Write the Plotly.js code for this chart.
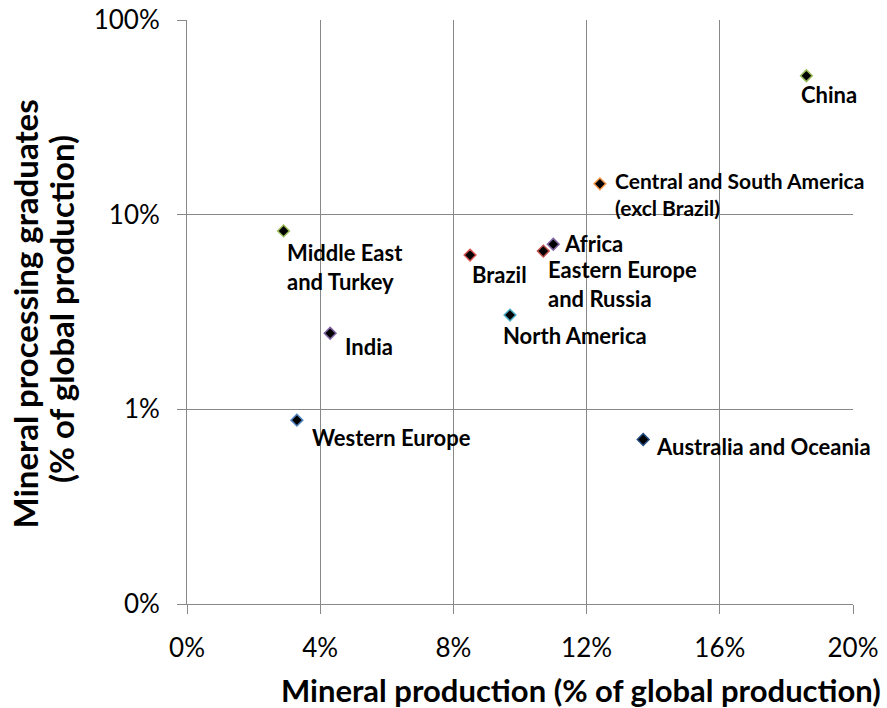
<!DOCTYPE html>
<html>
<head>
<meta charset="utf-8">
<script src="https://cdn.plot.ly/plotly-3.0.1.min.js"></script>
<style>html,body{margin:0;padding:0;background:#fff;}#chart{width:887px;height:708px;}</style>
</head>
<body>
<div id="chart"></div>
<script>
const regions = ["China", "Central and South America<br>(excl Brazil)", "Middle East<br>and Turkey", "Brazil", "Africa", "Eastern Europe<br>and Russia", "North America", "India", "Western Europe", "Australia and Oceania"];
const production = [18.6, 12.4, 2.9, 8.5, 11.0, 10.7, 9.7, 4.3, 3.3, 13.7];
const graduates = [51.7, 14.4, 8.25, 6.2, 7.05, 6.5, 3.05, 2.46, 0.88, 0.70];
const outlineColors = ["#9bbb59", "#f79646", "#9bbb59", "#d9534f", "#8064a2", "#c0504d", "#4bacc6", "#8064a2", "#4f81bd", "#1f497d"];
const xTicks = [0, 4, 8, 12, 16, 20];
const xTickText = xTicks.map(v => v + "%");
const yTicks = [0.1, 1, 10, 100];
const yTickText = ["0%", "1%", "10%", "100%"];
// label offsets (pixels) relative to each marker
const labelDX = [-7, 13, 1, 0, 9, 3, -9, 13, 13, 11];
const labelDY = [-19, -10, -36, -19, 1, -33, -20, -13, -17, -7];
const labelSize = [22, 21, 22, 22, 22, 22, 22, 22, 22, 22];

const font = "Lato, 'Open Sans', sans-serif";

const trace = {
  x: production, y: graduates, type: 'scatter', mode: 'markers',
  marker: {symbol: 'diamond', size: 9, color: '#000', line: {color: outlineColors, width: 1.5}},
  hoverinfo: 'none'
};

const annotations = regions.map((r, i) => ({
  x: production[i], y: Math.log10(graduates[i]), xref: 'x', yref: 'y',
  text: r, showarrow: false, xanchor: 'left', yanchor: 'middle', align: 'left',
  xshift: labelDX[i], yshift: labelDY[i],
  font: {family: font, size: labelSize[i], color: '#000', weight: 'bold'}
}));

annotations.push({
  text: 'Mineral production (% of global production)', xref: 'paper', yref: 'paper',
  x: 0.5916, y: 0, yshift: -86, xanchor: 'center', yanchor: 'middle', showarrow: false,
  font: {family: font, size: 31, color: '#000', weight: 'bold'}
});
annotations.push({
  text: 'Mineral processing graduates', xref: 'paper', yref: 'paper',
  x: 0, xshift: -162, y: 0.4957, xanchor: 'center', yanchor: 'middle', textangle: -90, showarrow: false,
  font: {family: font, size: 33, color: '#000', weight: 'bold'}
});
annotations.push({
  text: '(% of global production)', xref: 'paper', yref: 'paper',
  x: 0, xshift: -126, y: 0.505, xanchor: 'center', yanchor: 'middle', textangle: -90, showarrow: false,
  font: {family: font, size: 33, color: '#000', weight: 'bold'}
});

const layout = {
  width: 887, height: 708,
  margin: {l: 187, r: 34, t: 20, b: 104},
  paper_bgcolor: '#fff', plot_bgcolor: '#fff',
  showlegend: false,
  xaxis: {
    range: [0, 20], tickmode: 'array', tickvals: xTicks, ticktext: xTickText,
    showgrid: true, gridcolor: '#888', gridwidth: 1,
    showline: true, linecolor: '#888', linewidth: 1,
    ticks: 'outside', ticklen: 9, tickcolor: '#888',
    ticklabelstandoff: 12,
    zeroline: false,
    tickfont: {family: font, size: 26, color: '#000'}
  },
  yaxis: {
    type: 'log', range: [-1, 2], tickmode: 'array', tickvals: yTicks, ticktext: yTickText,
    showgrid: true, gridcolor: '#888', gridwidth: 1,
    showline: true, linecolor: '#888', linewidth: 1,
    ticks: 'outside', ticklen: 9, tickcolor: '#888',
    ticklabelstandoff: 12,
    zeroline: false,
    tickfont: {family: font, size: 26, color: '#000'}
  },
  annotations: annotations
};

Plotly.newPlot('chart', [trace], layout, {displayModeBar: false, staticPlot: true});
</script>
</body>
</html>
